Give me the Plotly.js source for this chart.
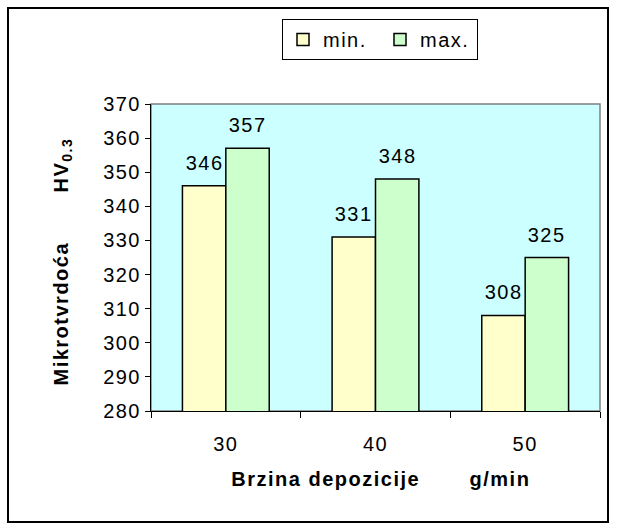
<!DOCTYPE html>
<html><head><meta charset="utf-8">
<script src="https://cdn.plot.ly/plotly-3.0.1.min.js"></script>
<style>
html,body{margin:0;padding:0;background:#fff;}
#chart{width:617px;height:531px;}
#chart text{letter-spacing:1.5px;}
</style>
</head><body><div id="chart"></div>
<script>
const categories = ['30', '40', '50'];
const minValues = [346, 331, 308];
const maxValues = [357, 348, 325];
const seriesNames = ['min.', 'max.'];
const yTicks = [280, 290, 300, 310, 320, 330, 340, 350, 360, 370];
const xTitle = 'Brzina depozicije       g/min';
const yTitle = 'Mikrotvrdoća       HV<sub>0.3</sub>';

const FONT = 'Liberation Sans, Arial, sans-serif';
const L = 151, R = 17, T = 104, B = 120, W = 617, H = 531;
const pw = W - L - R, ph = H - T - B;
const px = v => (v - L) / pw;
const py = v => (H - B - v) / ph;

const traces = [
  {type: 'bar', name: seriesNames[0], x: categories, y: minValues,
   marker: {color: '#FFFFCC', line: {color: '#000', width: 1.5}}},
  {type: 'bar', name: seriesNames[1], x: categories, y: maxValues,
   marker: {color: '#CCFFCC', line: {color: '#000', width: 1.5}}}
];

const annotations = [];
const barOffset = 0.145; // in category units
[minValues, maxValues].forEach((vals, s) => {
  vals.forEach((v, i) => {
    annotations.push({x: i + (s === 0 ? -barOffset : barOffset), y: v, xref: 'x', yref: 'y',
      text: String(v), showarrow: false, yanchor: 'bottom', yshift: 10,
      font: {family: FONT, size: 20, color: '#000'}});
  });
});
annotations.push({xref: 'paper', yref: 'paper', x: px(47), y: py(262), text: yTitle,
  textangle: -90, showarrow: false, font: {family: FONT, size: 20, color: '#000', weight: 'bold'}});
annotations.push({xref: 'paper', yref: 'paper', x: px(381), y: py(492), text: xTitle,
  showarrow: false, font: {family: FONT, size: 20, color: '#000', weight: 'bold'}});

const layout = {
  width: W, height: H,
  margin: {l: L, r: R, t: T, b: B},
  paper_bgcolor: '#fff', plot_bgcolor: '#CCFFFF',
  barmode: 'group', bargap: 0.42, bargroupgap: 0,
  showlegend: true,
  legend: {orientation: 'h', x: px(282), y: py(19), xanchor: 'left', yanchor: 'top',
    bordercolor: '#000', borderwidth: 1, bgcolor: '#fff',
    font: {family: FONT, size: 20, color: '#000'}, itemwidth: 30, entrywidth: 52, tracegroupgap: 0},
  xaxis: {type: 'category', tickson: 'boundaries', ticks: 'outside', ticklen: 6, tickcolor: '#000',
    showline: true, linecolor: '#000', linewidth: 1, showgrid: false, ticklabelstandoff: 15,
    tickfont: {family: FONT, size: 20, color: '#000'}},
  yaxis: {range: [280, 370], tickvals: yTicks, ticks: 'outside', ticklen: 5, tickcolor: '#000',
    showline: true, linecolor: '#000', linewidth: 1, showgrid: false, zeroline: false,
    tickfont: {family: FONT, size: 20, color: '#000'}},
  annotations: annotations,
  shapes: [
    {type: 'rect', xref: 'paper', yref: 'paper', x0: 0, x1: 1, y0: 0, y1: 1,
     line: {color: '#808080', width: 1.5}, layer: 'below'},
    {type: 'rect', xref: 'paper', yref: 'paper', x0: px(8), x1: px(608), y0: py(522), y1: py(8),
     line: {color: '#000', width: 2}}
  ]
};
Plotly.newPlot('chart', traces, layout, {displayModeBar: false, staticPlot: true});
</script></body></html>
